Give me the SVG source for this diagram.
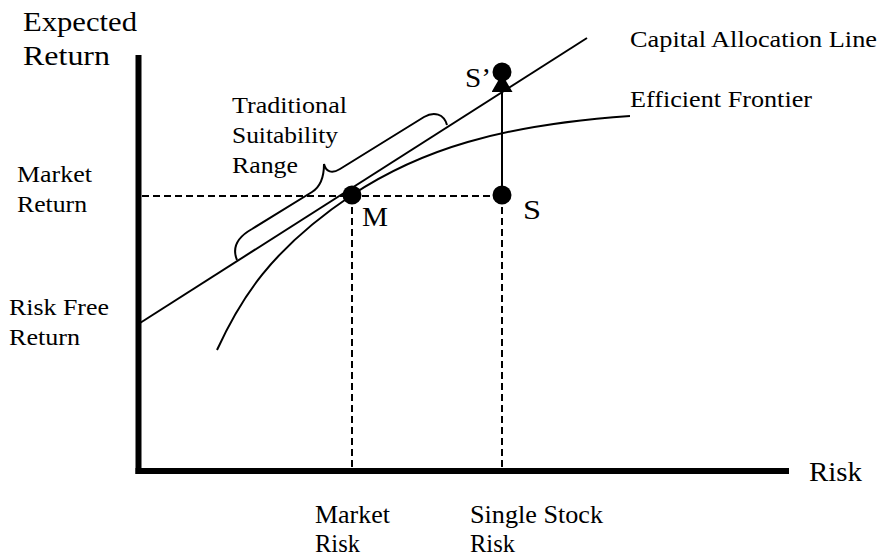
<svg xmlns="http://www.w3.org/2000/svg" width="880" height="558" viewBox="0 0 880 558">
  <style>
    text { font-family: "Liberation Serif", "Times New Roman", serif; fill: #000; }
    .big { font-size: 28px; }
    .mid { font-size: 25px; }
    .sm { font-size: 23px; }
    .axis { stroke: #000; stroke-width: 6; fill: none; }
    .guide { stroke: #000; stroke-width: 2; stroke-dasharray: 7 4; fill: none; }
    .curve { stroke: #000; stroke-width: 2; fill: none; }
    .dot { fill: #000; }
  </style>
  <defs>
    <marker id="head" markerUnits="userSpaceOnUse" markerWidth="18" markerHeight="21" viewBox="0 0 18 21" refX="18" refY="10.5" orient="auto">
      <path d="M0,0 L18,10.5 L0,21 Z" fill="#000"/>
    </marker>
  </defs>
  <rect width="880" height="558" fill="#fff"/>

  <!-- axes -->
  <g id="axes">
    <line class="axis" x1="138.5" y1="55" x2="138.5" y2="474"/>
    <line class="axis" x1="135.5" y1="471" x2="789" y2="471"/>
    <text class="big" x="23" y="31" textLength="114" lengthAdjust="spacingAndGlyphs">Expected</text>
    <text class="big" x="23" y="65" textLength="87" lengthAdjust="spacingAndGlyphs">Return</text>
    <text class="big" x="809" y="481" textLength="53" lengthAdjust="spacingAndGlyphs">Risk</text>
  </g>

  <!-- connectors: guides, lines, curves, arrow -->
  <g id="connectors">
    <path class="guide" d="M142,196 H502"/>
    <path class="guide" d="M352,196 V468"/>
    <path class="guide" d="M502,196 V468"/>
    <!-- capital allocation line -->
    <line class="curve" x1="140" y1="323" x2="587" y2="38"/>
    <!-- efficient frontier -->
    <path class="curve" d="M217,350 C240,300 270,250 352,195 C420,150 500,125 630,116"/>
    <!-- suitability brace -->
    <path class="curve" d="M237,260 C232,248 236,238 252,229 L312,192 C320,187 324,178 324,164 C326,172 332,174 340,169 L424,117 C434,111 444,114 447,125"/>
    <!-- move from S to S' -->
    <line class="curve" x1="502" y1="190" x2="502" y2="74" marker-end="url(#head)"/>
  </g>

  <g id="node-M">
    <circle class="dot" cx="352" cy="195" r="9.5"/>
    <text class="big" x="362" y="226" textLength="26" lengthAdjust="spacingAndGlyphs">M</text>
  </g>
  <g id="node-S">
    <circle class="dot" cx="502" cy="195" r="9.5"/>
    <text class="big" x="523" y="219" textLength="18" lengthAdjust="spacingAndGlyphs">S</text>
  </g>
  <g id="node-S-prime">
    <circle class="dot" cx="502" cy="72" r="9.5"/>
    <text class="big" x="465" y="87" textLength="26" lengthAdjust="spacingAndGlyphs">S’</text>
  </g>

  <g id="labels">
    <text class="sm" x="630" y="47" textLength="247" lengthAdjust="spacingAndGlyphs">Capital Allocation Line</text>
    <text class="sm" x="630" y="107" textLength="182" lengthAdjust="spacingAndGlyphs">Efficient Frontier</text>
    <text class="sm" x="232" y="113" textLength="115" lengthAdjust="spacingAndGlyphs">Traditional</text>
    <text class="sm" x="232" y="143" textLength="106" lengthAdjust="spacingAndGlyphs">Suitability</text>
    <text class="sm" x="232" y="173" textLength="66" lengthAdjust="spacingAndGlyphs">Range</text>
    <text class="sm" x="17" y="182" textLength="75" lengthAdjust="spacingAndGlyphs">Market</text>
    <text class="sm" x="17" y="212" textLength="70" lengthAdjust="spacingAndGlyphs">Return</text>
    <text class="sm" x="9" y="315" textLength="100" lengthAdjust="spacingAndGlyphs">Risk Free</text>
    <text class="sm" x="9" y="345" textLength="71" lengthAdjust="spacingAndGlyphs">Return</text>
    <text class="mid" x="315" y="523" textLength="75" lengthAdjust="spacingAndGlyphs">Market</text>
    <text class="mid" x="315" y="552" textLength="45" lengthAdjust="spacingAndGlyphs">Risk</text>
    <text class="mid" x="470" y="523" textLength="133" lengthAdjust="spacingAndGlyphs">Single Stock</text>
    <text class="mid" x="470" y="552" textLength="45" lengthAdjust="spacingAndGlyphs">Risk</text>
  </g>
</svg>
